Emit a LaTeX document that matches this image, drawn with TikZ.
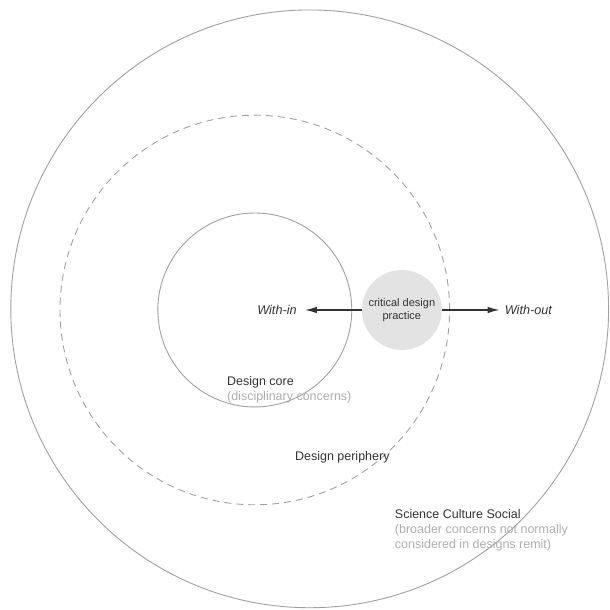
\documentclass[tikz,border=0pt]{standalone}
\usepackage{fontspec}
\setmainfont{Liberation Sans}
\usetikzlibrary{arrows.meta,positioning}
\definecolor{ringgray}{HTML}{A0A0A0}
\definecolor{dotfill}{HTML}{E3E3E3}
\definecolor{inkdark}{HTML}{333333}
\definecolor{inklight}{HTML}{ADADAD}
\tikzset{
  ring/.style={draw=ringgray, line width=0.9pt},
  flow/.style={draw=inkdark, line width=1.4pt, -{Latex[length=12pt,width=6.5pt]}},
  lbl/.style={font=\fontsize{12.5}{15}\selectfont, text=inkdark, align=left, inner sep=0pt}
}
\begin{document}
\begin{tikzpicture}
    	\useasboundingbox (-8.96,-10.55) rectangle (12.48,10.9);

    	\draw[ring] (1.93,0.04) circle (10.51);
    	\draw[ring,dash pattern=on 7pt off 5pt] (0,0) circle (6.85);
    	\node[ring,circle,minimum size=6.82cm] (core) at (0,0) {};

    	\node[circle,fill=dotfill,minimum size=2.81cm,inner sep=0pt,align=center,
    	      font=\fontsize{11}{13}\selectfont,text=inkdark] (cdp) at (5.17,0) {critical design\\practice};
    	\coordinate (intip) at (1.76,0);
    	\coordinate (outtip) at (8.61,0);
    	\draw[flow] (cdp.west) -- (intip);
    	\draw[flow] (cdp.east) -- (outtip);
    	\node[lbl,font=\fontsize{12.7}{15}\selectfont\itshape,left=8pt of intip] (within) {With-in};
    	\node[lbl,font=\fontsize{12.7}{15}\selectfont\itshape,right=5pt of outtip] (without) {With-out};

    	\node[lbl,anchor=north west] (corelbl) at (-0.98,-2.32) {Design core\\\textcolor{inklight}{(disciplinary concerns)}};
    	\node[lbl,anchor=north west] (perilbl) at (1.41,-4.96) {Design periphery};
    	\node[lbl,anchor=north west] (worldlbl) at (4.92,-7.0) {Science Culture Social\\\textcolor{inklight}{(broader concerns not normally}\\\textcolor{inklight}{considered in designs remit)}};
\end{tikzpicture}
\end{document}
